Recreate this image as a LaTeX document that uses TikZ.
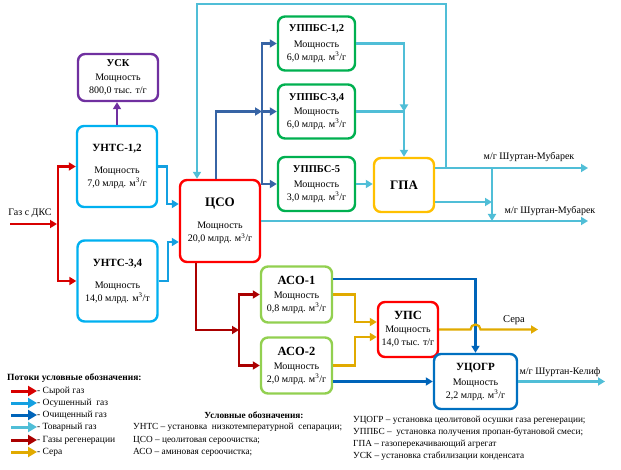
\documentclass[tikz,border=0pt]{standalone}
\usepackage{fontspec}
\setmainfont{Liberation Serif}
\usetikzlibrary{arrows.meta}
\definecolor{bx_purple}{RGB}{112, 48, 160}
\definecolor{bx_sky}{RGB}{0, 176, 240}
\definecolor{bx_red}{RGB}{255, 0, 0}
\definecolor{bx_green}{RGB}{0, 176, 80}
\definecolor{bx_orange}{RGB}{255, 192, 0}
\definecolor{bx_lime}{RGB}{146, 208, 80}
\definecolor{bx_blue}{RGB}{0, 112, 192}
\definecolor{fl_raw}{RGB}{215, 0, 0}
\definecolor{fl_dry}{RGB}{20, 160, 225}
\definecolor{fl_pur}{RGB}{55, 100, 165}
\definecolor{fl_clean}{RGB}{0, 100, 185}
\definecolor{fl_prod}{RGB}{80, 190, 215}
\definecolor{fl_reg}{RGB}{170, 0, 0}
\definecolor{fl_sul}{RGB}{225, 170, 0}
\tikzstyle{bx}=[rectangle,rounded corners=0.7em,fill=white,line width=2.4pt,
  align=center,inner sep=1pt,font=\fontsize{10}{13}\selectfont]
\tikzstyle{uskb}=[bx,draw=bx_purple,minimum width=80pt,minimum height=47pt]
\tikzstyle{untsb}=[bx,draw=bx_sky,minimum width=80pt,minimum height=81pt]
\tikzstyle{csob}=[bx,draw=bx_red,minimum width=80pt,minimum height=82pt]
\tikzstyle{uppb}=[bx,draw=bx_green,minimum width=77pt,minimum height=54pt]
\tikzstyle{gpab}=[bx,draw=bx_orange,minimum width=60pt,minimum height=54pt]
\tikzstyle{asob}=[bx,draw=bx_lime,minimum width=71pt,minimum height=56pt]
\tikzstyle{upsb}=[bx,draw=bx_red,minimum width=60pt,minimum height=55pt]
\tikzstyle{ucob}=[bx,draw=bx_blue,minimum width=83pt,minimum height=55pt]
\tikzstyle{fl}=[line width=2.2pt,-{Triangle[length=7pt,width=8pt]}]
\tikzstyle{raw}=[fl,draw=fl_raw]
\tikzstyle{dry}=[fl,draw=fl_dry]
\tikzstyle{pur}=[fl,draw=fl_pur]
\tikzstyle{clean}=[fl,draw=fl_clean]
\tikzstyle{prod}=[fl,draw=fl_prod]
\tikzstyle{reg}=[fl,draw=fl_reg]
\tikzstyle{sul}=[fl,draw=fl_sul]
\tikzstyle{conc}=[fl,draw=bx_purple]
\tikzstyle{leg}=[line width=3pt,-{Triangle[length=9pt,width=10pt]}]
\tikzstyle{lbl}=[font=\fontsize{10}{12}\selectfont,inner sep=0pt]
\tikzstyle{legl}=[font=\fontsize{9.5}{12}\selectfont,inner sep=0pt,anchor=west]
\tikzstyle{abl}=[font=\fontsize{9.3}{12}\selectfont,inner sep=0pt,anchor=west]

\begin{document}
\begin{tikzpicture}[x=1pt,y=-1pt]
    \useasboundingbox (0,0) rectangle (621,470);
    % units
    \node [style=uskb] (usk) at (118,77.5) {{\fontsize{10.5}{13}\selectfont\bfseries УСК}\\[1pt]Мощность\\800,0 тыс. т/г};
    \node [style=untsb] (unts12) at (117,166.5) {{\fontsize{11}{13}\selectfont\bfseries УНТС-1,2}\\[9pt]Мощность\\7,0 млрд. м\textsuperscript{3}/г};
    \node [style=untsb] (unts34) at (117.5,281) {{\fontsize{11}{13}\selectfont\bfseries УНТС-3,4}\\[9pt]Мощность\\14,0 млрд. м\textsuperscript{3}/т};
    \node [style=csob] (cso) at (220,221) {{\fontsize{13}{13}\selectfont\bfseries ЦСО}\\[9pt]Мощность\\20,0 млрд. м\textsuperscript{3}/г};
    \node [style=uppb] (uppbs12) at (316.5,43.5) {{\fontsize{10.5}{13}\selectfont\bfseries УППБС-1,2}\\[3pt]Мощность\\6,0 млрд. м\textsuperscript{3}/г};
    \node [style=uppb] (uppbs34) at (316.5,111.5) {{\fontsize{10.5}{13}\selectfont\bfseries УППБС-3,4}\\[1pt]Мощность\\6,0 млрд. м\textsuperscript{3}/г};
    \node [style=uppb] (uppbs5) at (316.5,184) {{\fontsize{10.5}{13}\selectfont\bfseries УППБС-5}\\[2pt]Мощность\\3,0 млрд. м\textsuperscript{3}/г};
    \node [style=gpab] (gpa) at (404,185) {\fontsize{13}{13}\selectfont\bfseries ГПА};
    \node [style=asob] (aso1) at (296.5,294.5) {{\fontsize{12.5}{13}\selectfont\bfseries АСО-1}\\[1pt]Мощность\\0,8 млрд. м\textsuperscript{3}/г};
    \node [style=asob] (aso2) at (296.5,365.5) {{\fontsize{12.5}{13}\selectfont\bfseries АСО-2}\\[1pt]Мощность\\2,0 млрд. м\textsuperscript{3}/г};
    \node [style=upsb] (ups) at (408,329.5) {{\fontsize{12.5}{12}\selectfont\bfseries УПС}\\Мощность\\14,0 тыс. т/г};
    \node [style=ucob] (ucogr) at (475.5,381.5) {{\fontsize{11}{13}\selectfont\bfseries УЦОГР}\\[2pt]Мощность\\2,2 млрд. м\textsuperscript{3}/г};

    % junctions and free ends
    \coordinate (gasin) at (10,224);
    \coordinate (rawmid) at (57,224);
    \coordinate (rb1) at (58,166.5);
    \coordinate (rb2) at (58,281);
    \coordinate (pb1) at (262,43.5);
    \coordinate (pb2) at (262,111.5);
    \coordinate (pb3) at (262,184);
    \coordinate (tj) at (404,111.5);
    \coordinate (loop) at (446,168);
    \coordinate (ltop) at (446,4);
    \coordinate (mj1) at (492,168);
    \coordinate (mj2) at (492,221);
    \coordinate (mj3) at (492,202);
    \coordinate (out1) at (588,168);
    \coordinate (out2) at (588,221);
    \coordinate (out3) at (605,381.5);
    \coordinate (rg1) at (239,294.5);
    \coordinate (rg2) at (239,330);
    \coordinate (rg3) at (239,365.5);
    \coordinate (br1) at (470.5,329.5);
    \coordinate (sera) at (538,329.5);

    % raw gas
    \draw [style=raw] (gasin) to (rawmid);
    \draw [style=raw,-] ([yshift=1.1pt]rb1) to ([yshift=-1.1pt]rb2);
    \draw [style=raw] (rb1) to (unts12.west);
    \draw [style=raw] (rb2) to (unts34.west);
    \node [style=lbl] (gaslbl) at (30,213) {Газ с ДКС};
    \draw [style=conc] (unts12.north) to (unts12.north |- usk.south);

    % dried gas
    \draw [style=dry] (unts12.east) -- ++(9,0) |- ([yshift=17pt]cso.west);
    \draw [style=dry] (unts34.east) -- ++(9,0) |- ([yshift=-21pt]cso.west);

    % purified gas
    \draw [style=pur] ([xshift=-4pt]cso.north) |- (pb2);
    \draw [style=pur,-] ([yshift=1.1pt]pb1) to ([yshift=-1.1pt]pb3);
    \draw [style=pur] (pb1) to (uppbs12.west);
    \draw [style=pur] (pb2) to (uppbs34.west);
    \draw [style=pur] (pb3) to (uppbs5.west);

    % commercial gas
    \draw [style=prod] (uppbs12.east) -| (tj);
    \draw [style=prod] (uppbs34.east) -| (gpa.north);
    \draw [style=prod] (uppbs5.east) to (uppbs5.east -| gpa.west);
    \draw [style=prod] (loop) -- (ltop) -| ([xshift=-23pt]cso.north);
    \draw [style=prod] ([yshift=17pt]gpa.east) to (out1);
    \draw [style=prod] ([yshift=-17pt]gpa.east) to (mj3);
    \draw [style=prod] (mj1) to (mj2);
    \draw [style=prod] (cso.east) to (out2);
    \node [style=lbl] (mub1) at (529,157) {м/г Шуртан-Мубарек};
    \node [style=lbl] (mub2) at (550,211) {м/г Шуртан-Мубарек};

    % regeneration gas
    \draw [style=reg] ([xshift=-24pt]cso.south) |- (rg2);
    \draw [style=reg,-] ([yshift=1.1pt]rg1) to ([yshift=-1.1pt]rg3);
    \draw [style=reg] (rg1) to (aso1.west);
    \draw [style=reg] (rg3) to (aso2.west);

    % cleaned regeneration gas
    \draw [style=clean] ([yshift=15.5pt]aso1.east) -| (ucogr.north);
    \draw [style=clean] (aso2.east |- ucogr.west) to (ucogr.west);
    \draw [style=prod] (ucogr.east) to (out3);
    \node [style=lbl] (kelif) at (560,372) {м/г Шуртан-Келиф};

    % sulphur
    \draw [style=sul] (aso1.east) -- ++(22,0) |- ([yshift=7.5pt]ups.west);
    \draw [style=sul] (aso2.east) -- ++(22,0) |- ([yshift=-7.5pt]ups.west);
    \draw [style=sul] (ups.east) -- (br1) arc[start angle=180,end angle=0,radius=5pt] -- (sera);
    \node [style=lbl,font=\fontsize{10.5}{12}\selectfont] (seralbl) at (514,320) {Сера};

    % legend
    \node [style=legl] (legt) at (7,378) {\bfseries Потоки условные обозначения:};
    \coordinate (l1a) at (11,391); \coordinate (l1b) at (37,391);
    \coordinate (l2a) at (11,403); \coordinate (l2b) at (37,403);
    \coordinate (l3a) at (11,415); \coordinate (l3b) at (37,415);
    \coordinate (l4a) at (11,427); \coordinate (l4b) at (37,427);
    \coordinate (l5a) at (11,440); \coordinate (l5b) at (37,440);
    \coordinate (l6a) at (11,452); \coordinate (l6b) at (37,452);
    \draw [style=leg,draw=fl_raw] (l1a) to (l1b);
    \draw [style=leg,draw=fl_dry] (l2a) to (l2b);
    \draw [style=leg,draw=fl_clean] (l3a) to (l3b);
    \draw [style=leg,draw=fl_prod] (l4a) to (l4b);
    \draw [style=leg,draw=fl_reg] (l5a) to (l5b);
    \draw [style=leg,draw=fl_sul] (l6a) to (l6b);
    \node [style=legl] (l1) at (l1b) {- Сырой газ};
    \node [style=legl] (l2) at (l2b) {- Осушенный\ \ газ};
    \node [style=legl] (l3) at (l3b) {- Очищенный газ};
    \node [style=legl] (l4) at (l4b) {- Товарный газ};
    \node [style=legl] (l5) at (l5b) {- Газы регенерации};
    \node [style=legl] (l6) at (l6b) {- Сера};

    % abbreviations
    \node [style=abl,anchor=center] (abt) at (254,415) {\bfseries Условные обозначения:};
    \node [style=abl] (ab1) at (133,427) {УНТС – установка\ \ низкотемпературной\ \ сепарации;};
    \node [style=abl] (ab2) at (133,440) {ЦСО – цеолитовая сероочистка;};
    \node [style=abl] (ab3) at (133,452) {АСО – аминовая сероочистка;};
    \node [style=abl] (ab4) at (353,420) {УЦОГР – установка цеолитовой осушки газа регенерации;};
    \node [style=abl] (ab5) at (353,432) {УППБС –\ \ установка получения пропан-бутановой смеси;};
    \node [style=abl] (ab6) at (353,444) {ГПА – газоперекачивающий агрегат};
    \node [style=abl] (ab7) at (353,456) {УСК – установка стабилизации конденсата};
  \end{tikzpicture}
\end{document}
